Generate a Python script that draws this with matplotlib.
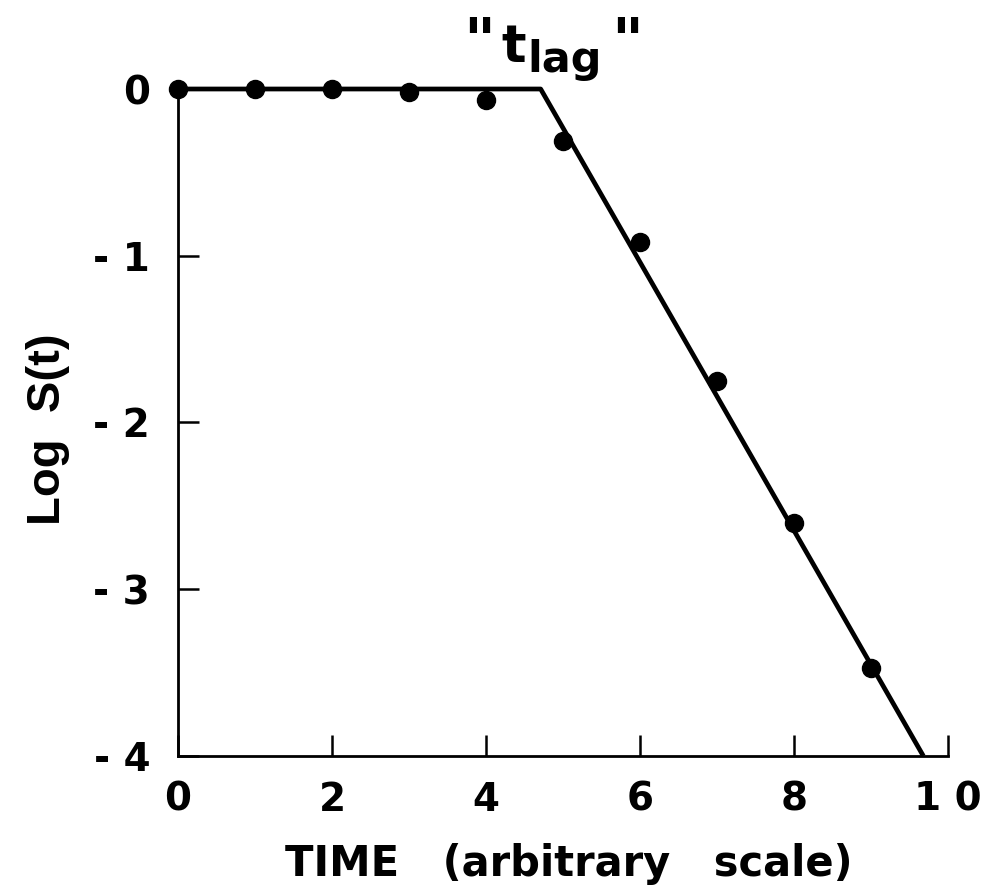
import matplotlib
matplotlib.use("Agg")
import matplotlib.pyplot as plt

plt.rcParams['font.family'] = ['DejaVu Sans']
plt.rcParams['font.weight'] = 'bold'

# --- data ---
time = [0, 1, 2, 3, 4, 5, 6, 7, 8, 9]
log_s = [0.0, 0.0, 0.0, -0.02, -0.066, -0.31, -0.92, -1.75, -2.60, -3.47]

# fitted shoulder + exponential line
fit_x = [0, 4.71, 9.68]
fit_y = [0, 0, -4]
t_lag = 4.71

xticks = [0, 2, 4, 6, 8, 10]
xtick_labels = ["0", "2", "4", "6", "8", "1 0"]
yticks = [0, -1, -2, -3, -4]
ytick_labels = ["0", "- 1", "- 2", "- 3", "- 4"]

fig = plt.figure(figsize=(9.85, 8.9), dpi=100)
ax = fig.add_axes([0.1807, 0.1506, 0.7817, 0.7494])

ax.plot(fit_x, fit_y, color="black", lw=3.4, solid_capstyle="butt", clip_on=False, zorder=2)
ax.plot(time, log_s, "o", color="black", ms=13, clip_on=False, zorder=3)

ax.set_xlim(0, 10)
ax.set_ylim(-4, 0)
ax.spines["top"].set_visible(False)
ax.spines["right"].set_visible(False)
ax.spines["left"].set_linewidth(2)
ax.spines["bottom"].set_linewidth(2)

ax.set_xticks(xticks)
ax.set_xticklabels(xtick_labels)
ax.set_yticks(yticks)
ax.set_yticklabels(ytick_labels)
ax.tick_params(direction="in", length=15, width=1.8, labelsize=28)
ax.tick_params(axis="x", pad=18)
ax.tick_params(axis="y", pad=20)

ax.set_xlabel("TIME   (arbitrary   scale)", fontsize=30, fontweight="bold")
ax.xaxis.set_label_coords(0.507, -0.13)
ax.xaxis.label.set_va("top")
ax.set_ylabel("Log  S(t)", fontsize=34, fontweight="bold",
              family=["Liberation Sans", "DejaVu Sans"])
ax.yaxis.set_label_coords(-0.14, 0.49)

# "t_lag" label above the break point
pieces = [('"', -46, 74, "right", "top", 44),
          ("t", -39, 27, "left", "baseline", 37),
          ("lag", -13, 17, "left", "baseline", 31),
          ('"', 70, 74, "left", "top", 44)]
for s, dx, dy, ha, va, size in pieces:
    ax.annotate(s, xy=(t_lag, 0), xytext=(dx, dy), textcoords="offset pixels",
                ha=ha, va=va, fontsize=size, fontweight="bold", annotation_clip=False)

fig.savefig("out.png", dpi=100)
